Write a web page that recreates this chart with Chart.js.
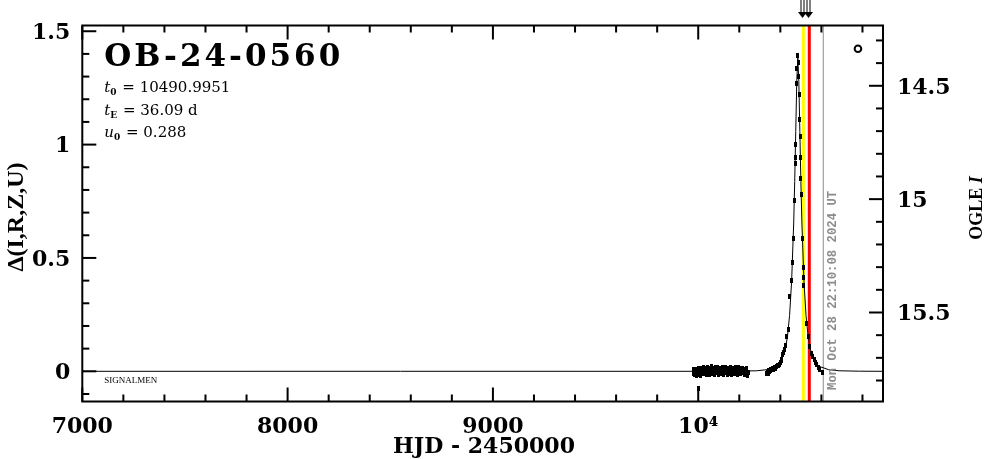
<!DOCTYPE html>
<html>
<head>
<meta charset="utf-8">
<script src="https://cdn.jsdelivr.net/npm/chart.js@4.4.1/dist/chart.umd.min.js"></script>
<style>
  html, body { margin: 0; padding: 0; background: #ffffff; }
  #wrap { width: 986px; height: 459px; }
</style>
</head>
<body>
<div id="wrap"><canvas id="c" width="986" height="459"></canvas></div>
<script>
// ---------------- data ----------------
const eventName = 'OB-24-0560';
const paramT0 = '10490.9951';
const paramTE = '36.09 d';
const paramU0 = '0.288';
const dateText = 'Mon Oct 28 22:10:08 2024 UT';
const sourceText = 'SIGNALMEN';

const xTickValues = [7000, 8000, 9000, 10000];
const xTickLabels = ['7000', '8000', '9000', '10\u2074'];
const yTickValues = [0, 0.5, 1, 1.5];
const yTickLabels = ['0', '0.5', '1', '1.5'];
const magTickValues = [14.5, 15, 15.5];
const magTickLabels = ['14.5', '15', '15.5'];

// OGLE 2023 season (flat baseline)
const season1T = [9975, 9978, 9981, 9984, 9987, 9990, 9993, 9996, 9999, 10002, 10005, 10008, 10011, 10014, 10017, 10020, 10023, 10026, 10029, 10032, 10035, 10038, 10041, 10044, 10047, 10050, 10053, 10056, 10059, 10062, 10065, 10068, 10071, 10074, 10077, 10080, 10083, 10086, 10089, 10092, 10095, 10098, 10101, 10104, 10107, 10110, 10113, 10116, 10119, 10122, 10125, 10128, 10131, 10134, 10137, 10140, 10143, 10146, 10149, 10152, 10155, 10158, 10161, 10164, 10167, 10170, 10173, 10176, 10179, 10182, 10185, 10188, 10191, 10194, 10197, 10200, 10203, 10206, 10209, 10212, 10215, 10218, 10222, 10226, 10230, 10234, 10238, 10242, 10245, 10001];
const season1D = [-0.010, 0.006, -0.016, -0.002, 0.010, -0.020, -0.008, 0.008, -0.004, 0.014, -0.012, 0.002, -0.018, 0.012, -0.002, 0.006, -0.010, 0.016, 0.000, -0.008, 0.012, -0.014, 0.008, 0.018, -0.006, 0.002, -0.012, 0.014, 0.004, -0.008, 0.020, 0.000, -0.010, 0.012, 0.006, -0.014, 0.016, 0.002, -0.006, 0.018, 0.008, -0.012, 0.004, 0.014, -0.002, 0.012, -0.010, 0.016, 0.000, 0.008, -0.014, 0.010, 0.018, -0.006, 0.004, 0.012, -0.012, 0.014, 0.002, -0.008, 0.016, -0.002, 0.010, -0.016, 0.006, -0.010, 0.014, 0.004, -0.008, 0.018, 0.000, 0.010, -0.012, 0.006, 0.016, -0.004, 0.012, -0.010, 0.008, 0.002, 0.014, -0.006, 0.010, -0.014, 0.004, 0.012, -0.008, -0.018, -0.004, -0.076];

// OGLE 2024 season (the event)
const season2T = [10334, 10337, 10340, 10343, 10346, 10350, 10354, 10358, 10362, 10366, 10370, 10375, 10380, 10385, 10390, 10395, 10400, 10404, 10408, 10412, 10416, 10420, 10424, 10431, 10439, 10447, 10452, 10457, 10463, 10468, 10473, 10474, 10475, 10480, 10481, 10483, 10487, 10490, 10492, 10495, 10497, 10499, 10500, 10502, 10507, 10512, 10514, 10515, 10525, 10536, 10541, 10553, 10558, 10564, 10570, 10577, 10585, 10593, 10606];
const season2D = [-0.010, -0.004, -0.008, 0.002, -0.002, 0.004, 0.008, 0.006, 0.012, 0.010, 0.016, 0.014, 0.020, 0.024, 0.026, 0.032, 0.038, 0.046, 0.052, 0.072, 0.082, 0.095, 0.112, 0.152, 0.183, 0.328, 0.400, 0.480, 0.587, 0.755, 0.915, 0.945, 1.000, 1.270, 1.335, 1.393, 1.360, 1.300, 1.220, 1.110, 1.035, 0.945, 0.850, 0.780, 0.585, 0.457, 0.415, 0.380, 0.213, 0.152, 0.108, 0.080, 0.066, 0.050, 0.040, 0.028, 0.018, 0.006, -0.006];

// model curve as drawn
const modelT = [7000, 10100, 10185, 10285, 10335, 10385, 10405, 10425, 10435, 10445, 10455, 10465, 10470, 10475, 10480, 10485, 10490, 10495, 10500, 10505, 10515, 10525, 10535, 10545, 10565, 10585, 10635, 10685, 10785, 10900];
const modelD = [0, 0, 0.0005, 0.0023, 0.0072, 0.0233, 0.0463, 0.1013, 0.156, 0.2465, 0.398, 0.654, 0.837, 1.058, 1.279, 1.384, 1.279, 1.058, 0.837, 0.654, 0.398, 0.2465, 0.156, 0.1013, 0.0463, 0.0233, 0.0072, 0.0023, 0.0005, 0];

// open-circle symbol in the upper right
const symbolT = [10778];
const symbolD = [1.423];

// vertical marker lines (HJD - 2450000)
const yellowLineT = 10512;
const redLineT = 10541;
const grayLineT = 10609;

// axis ranges
const xMin = 7000, xMax = 10900;
const yMin = -0.1332, yMax = 1.5253;
const magZero = 15.7594;

// ---------------- chart ----------------
const toPts = (xs, ys) => xs.map((x, i) => ({ x: x, y: ys[i] }));

// small vertical-dash marker (point with its error bar)
function dashMarker(w, h) {
  const c = document.createElement('canvas');
  c.width = w; c.height = h;
  const g = c.getContext('2d');
  g.fillStyle = '#000';
  g.fillRect(0, 0, w, h);
  return c;
}
const markerA = dashMarker(3, 5);
const markerB = dashMarker(3, 5);

const tickFont = { family: "'DejaVu Serif', serif", size: 22, weight: 'bold' };

const decorPlugin = {
  id: 'decor',
  beforeDatasetsDraw(chart) {
    const { ctx, chartArea: a, scales } = chart;
    const xs = scales.x;
    ctx.save();
    const vline = (t, color, w) => {
      const px = xs.getPixelForValue(t);
      ctx.strokeStyle = color; ctx.lineWidth = w;
      ctx.beginPath(); ctx.moveTo(px, a.top); ctx.lineTo(px, a.bottom); ctx.stroke();
    };
    vline(grayLineT, '#8c8c8c', 1);
    vline(yellowLineT, '#ffff00', 3);
    vline(redLineT, '#ff0000', 3);
    ctx.restore();
  },
  afterDatasetsDraw(chart) {
    const { ctx, chartArea: a, scales } = chart;
    const xs = scales.x, ys = scales.y, ms = scales.y2;
    ctx.save();
    // frame
    ctx.strokeStyle = '#000'; ctx.lineWidth = 2;
    ctx.strokeRect(a.left, a.top, a.right - a.left, a.bottom - a.top);
    // ticks
    ctx.lineWidth = 2;
    const majL = 14, minL = 7;
    for (let v = 7000; v <= 10800 + 1e-6; v += 200) {
      const px = xs.getPixelForValue(v);
      const L = (Math.abs(v % 1000) < 1e-6) ? majL : minL;
      ctx.beginPath();
      ctx.moveTo(px, a.bottom); ctx.lineTo(px, a.bottom - L);
      ctx.moveTo(px, a.top); ctx.lineTo(px, a.top + L);
      ctx.stroke();
    }
    for (let k = -1; k <= 15; k++) {
      const py = ys.getPixelForValue(k / 10);
      const L = (k % 5 === 0) ? majL : minL;
      ctx.beginPath(); ctx.moveTo(a.left, py); ctx.lineTo(a.left + L, py); ctx.stroke();
    }
    for (let k = 143; k <= 158; k++) {
      const py = ms.getPixelForValue(k / 10);
      const L = (k % 5 === 0) ? majL : minL;
      ctx.beginPath(); ctx.moveTo(a.right, py); ctx.lineTo(a.right - L, py); ctx.stroke();
    }

    // arrows above the plot at the coloured lines
    ctx.fillStyle = '#000'; ctx.strokeStyle = '#000'; ctx.lineWidth = 1;
    [yellowLineT, redLineT].forEach(t => {
      const px = Math.round(xs.getPixelForValue(t)) - 0.5;
      ctx.beginPath();
      ctx.moveTo(px - 1.5, 0); ctx.lineTo(px - 1.5, 14);
      ctx.moveTo(px + 1.5, 0); ctx.lineTo(px + 1.5, 14);
      ctx.stroke();
      ctx.beginPath();
      ctx.moveTo(px - 4.5, 12); ctx.lineTo(px + 4.5, 12); ctx.lineTo(px, 18); ctx.closePath();
      ctx.fill();
    });

    // title and parameters
    ctx.fillStyle = '#000';
    ctx.textAlign = 'left'; ctx.textBaseline = 'alphabetic';
    ctx.font = "bold 31px 'DejaVu Serif'";
    try { ctx.letterSpacing = '3px'; } catch (e) {}
    ctx.fillText(eventName, a.left + 22, 66);
    try { ctx.letterSpacing = '0px'; } catch (e) {}

    const px0 = a.left + 22;
    const drawParam = (sym, sub, val, base) => {
      ctx.font = "italic 15px 'DejaVu Serif'";
      ctx.fillText(sym, px0, base);
      let w = ctx.measureText(sym).width;
      ctx.font = "bold 9px 'DejaVu Serif'";
      ctx.fillText(sub, px0 + w, base + 3);
      w += ctx.measureText(sub).width + 1;
      ctx.font = "15px 'DejaVu Serif'";
      ctx.fillText(' = ' + val, px0 + w, base);
    };
    drawParam('t', '0', paramT0, 92);
    drawParam('t', 'E', paramTE, 115);
    drawParam('u', '0', paramU0, 137);

    // source label
    ctx.font = "9px 'Liberation Serif'";
    ctx.fillText(sourceText, a.left + 22, ys.getPixelForValue(0) + 12);

    // date text (rotated, gray)
    ctx.save();
    ctx.translate(xs.getPixelForValue(grayLineT) + 13, 390);
    ctx.rotate(-Math.PI / 2);
    ctx.fillStyle = '#8c8c8c';
    ctx.font = "bold 12.3px 'Liberation Mono'";
    ctx.textBaseline = 'alphabetic';
    ctx.fillText(dateText, 0, 0);
    ctx.restore();

    // axis titles
    ctx.fillStyle = '#000';
    ctx.font = "bold 22px 'DejaVu Serif'";
    ctx.textAlign = 'center'; ctx.textBaseline = 'middle';
    ctx.fillText('HJD - 2450000', 484, 447);

    ctx.save();
    ctx.translate(17, 217);
    ctx.rotate(-Math.PI / 2);
    ctx.font = "bold 24px 'Liberation Serif'";
    ctx.fillText('\u0394(I,R,Z,U)', 0, 0);
    ctx.restore();

    ctx.save();
    ctx.translate(977, 208);
    ctx.rotate(-Math.PI / 2);
    ctx.font = "bold 18px 'Liberation Serif'";
    const w1 = ctx.measureText('OGLE ').width;
    ctx.font = "bold italic 18px 'Liberation Serif'";
    const w2 = ctx.measureText('I').width;
    ctx.textAlign = 'left';
    ctx.font = "bold 18px 'Liberation Serif'";
    ctx.fillText('OGLE ', -(w1 + w2) / 2, 0);
    ctx.font = "bold italic 18px 'Liberation Serif'";
    ctx.fillText('I', -(w1 + w2) / 2 + w1, 0);
    ctx.restore();

    ctx.restore();
  }
};

new Chart(document.getElementById('c'), {
  type: 'scatter',
  data: {
    datasets: [
      {
        type: 'line',
        label: 'model',
        data: toPts(modelT, modelD),
        borderColor: '#000', borderWidth: 1,
        pointRadius: 0, tension: 0, fill: false, order: 3
      },
      {
        label: 'OGLE 2023',
        data: toPts(season1T, season1D),
        pointStyle: markerA, pointRadius: 2,
        backgroundColor: '#000', borderWidth: 0, order: 1
      },
      {
        label: 'OGLE 2024',
        data: toPts(season2T, season2D),
        pointStyle: markerB, pointRadius: 2,
        backgroundColor: '#000', borderWidth: 0, order: 1
      },
      {
        label: 'symbol',
        data: toPts(symbolT, symbolD),
        pointStyle: 'circle', pointRadius: 3.3,
        backgroundColor: 'rgba(0,0,0,0)', borderColor: '#000', borderWidth: 2, order: 0
      }
    ]
  },
  options: {
    responsive: false,
    animation: false,
    devicePixelRatio: 1,
    layout: { padding: { top: 25.5, left: 0, right: 0, bottom: 0 } },
    plugins: { legend: { display: false }, tooltip: { enabled: false } },
    scales: {
      x: {
        type: 'linear', position: 'bottom', min: xMin, max: xMax,
        grid: { display: false }, border: { display: false },
        afterBuildTicks: s => { s.ticks = xTickValues.map(v => ({ value: v })); },
        afterFit: s => { s.height = 57.5; },
        ticks: {
          font: tickFont, color: '#000', padding: 5, maxRotation: 0, autoSkip: false,
          callback: v => xTickLabels[xTickValues.indexOf(v)]
        }
      },
      y: {
        type: 'linear', position: 'left', min: yMin, max: yMax,
        grid: { display: false }, border: { display: false },
        afterBuildTicks: s => { s.ticks = yTickValues.map(v => ({ value: v })); },
        afterFit: s => { s.width = 82.3; },
        ticks: {
          font: tickFont, color: '#000', padding: 4, labelOffset: 2, autoSkip: false,
          callback: v => yTickLabels[yTickValues.indexOf(v)]
        }
      },
      y2: {
        type: 'linear', position: 'right', reverse: true,
        min: magZero - yMax, max: magZero - yMin,
        grid: { display: false }, border: { display: false },
        afterBuildTicks: s => { s.ticks = magTickValues.map(v => ({ value: v })); },
        afterFit: s => { s.width = 103; },
        ticks: {
          font: tickFont, color: '#000', padding: 6, labelOffset: 2, autoSkip: false,
          callback: v => magTickLabels[magTickValues.indexOf(v)]
        }
      }
    }
  },
  plugins: [decorPlugin]
});
</script>
</body>
</html>
